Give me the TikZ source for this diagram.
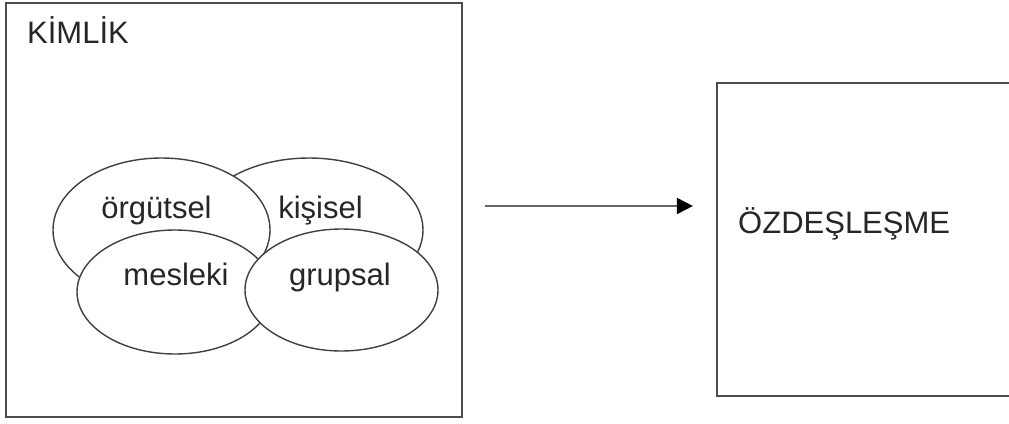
\documentclass[tikz,border=0pt]{standalone}
\usepackage{fontspec}
\setmainfont{Liberation Sans}
\usetikzlibrary{arrows.meta,positioning,calc,shapes.geometric}

\begin{document}
\begin{tikzpicture}[
    x=1pt, y=-1pt,
    frame/.style={
        % the shape:
        rectangle, inner sep=0pt,
        % the line
        draw=black!70, line width=2.2pt},
    blob/.style={
        ellipse, inner sep=0pt,
        draw=black!75, line width=1.4pt, fill=white},
    word/.style={
        anchor=base, inner sep=0pt, text=black!85,
        font=\fontsize{31}{37}\selectfont},
    pfeil/.style={
        draw=black!60, line width=2pt,
        -{Triangle[length=16pt,width=16pt,color=black]}}
  ]
  \useasboundingbox (0,0) rectangle (1009,423);
  % the two boxes
  \node (kimlik) [frame, minimum width=456pt, minimum height=414pt] at (234,210) {};
  \node (ozdes) [frame, minimum width=320pt, minimum height=313pt] at (877,239.5) {};
  \node (kimlik text) [word, anchor=base west] at (27,43) {KİMLİK};
  \node (ozdes text) [word, anchor=base west] at (738,233) {ÖZDEŞLEŞME};
  % the four ellipses, back to front
  \node (kisisel) [blob, minimum width=228pt, minimum height=144pt] at (309,230) {};
  \node (orgutsel) [blob, minimum width=217pt, minimum height=144pt] at (161.5,230) {};
  \node (mesleki) [blob, minimum width=196pt, minimum height=124pt] at (175,292) {};
  \node (grupsal) [blob, minimum width=193pt, minimum height=122pt] at (341.5,290) {};
  \node (orgutsel text) [word] at (156.5,218) {örgütsel};
  \node (kisisel text) [word] at (320.5,218) {kişisel};
  \node (mesleki text) [word] at (176,285) {mesleki};
  \node (grupsal text) [word] at (340,285) {grupsal};
  % the arrow
  \coordinate (ok level) at (0,206);
  \draw [pfeil] ($(kimlik.east |- ok level)+(22,0)$) -- ($(ozdes.west |- ok level)+(-23,0)$);
\end{tikzpicture}
\end{document}
